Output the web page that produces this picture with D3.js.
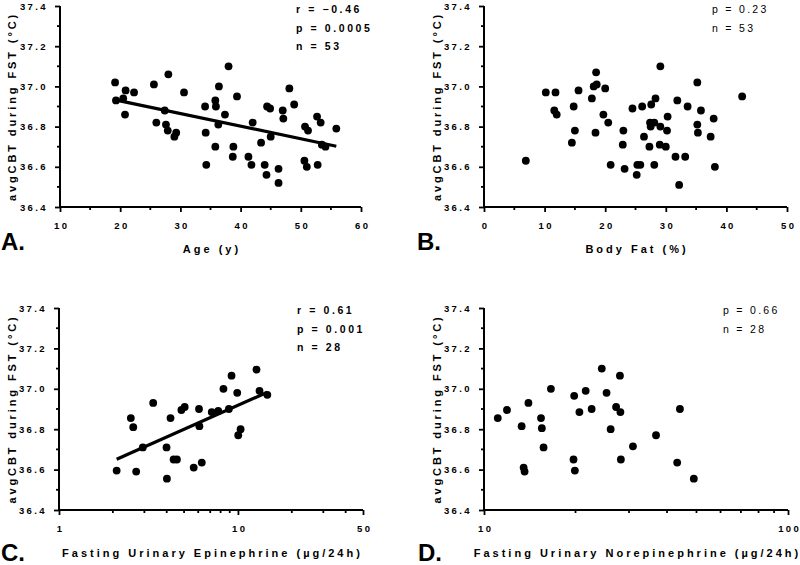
<!DOCTYPE html>
<html><head><meta charset="utf-8">
<script src="https://cdn.jsdelivr.net/npm/d3@7"></script>
<style>body{margin:0;background:#fff}svg{display:block}</style>
</head><body><svg id="c" width="800" height="565"></svg>
<script>
// ---- data ----
const yMajorTicks = [36.4, 36.6, 36.8, 37.0, 37.2, 37.4];
const yMinorTicks = [36.5, 36.7, 36.9, 37.1, 37.3];

const ageX = [19.15,19.3,20.5,20.9,20.8,22.3,25.6,26.0,27.4,27.6,27.9,28.0,29.3,29.0,30.6,34.1,34.2,34.3,35.8,35.9,35.8,36.4,36.3,37.4,38.0,38.8,38.7,39.4,41.3,41.8,42.0,43.4,44.0,44.3,44.4,44.9,45.0,46.3,46.3,47.0,47.1,48.1,48.9,50.6,50.7,51.2,51.0,52.7,52.8,53.3,53.5,54.1,55.9];
const ageY = [37.02,36.93,36.94,36.98,36.86,36.97,37.01,36.82,36.88,36.81,36.78,37.06,36.77,36.75,36.97,36.90,36.77,36.61,36.93,36.90,36.70,37.00,36.81,36.86,37.10,36.70,36.65,36.95,36.65,36.61,36.82,36.72,36.61,36.56,36.90,36.89,36.75,36.59,36.52,36.88,36.84,36.99,36.91,36.63,36.80,36.78,36.60,36.85,36.61,36.82,36.71,36.70,36.79];

const fatX = [6.9,10.2,11.8,11.6,12.0,14.5,14.8,15.0,15.6,17.8,18.1,18.5,18.6,18.4,19.7,20.0,20.5,20.9,22.9,23.0,23.2,24.5,25.2,25.3,25.8,26.1,26.4,27.3,27.4,27.5,27.6,28.1,28.1,28.3,29.1,29.1,29.0,30.0,30.2,30.3,31.6,31.9,32.2,33.2,33.6,35.2,35.2,35.3,35.8,37.4,37.9,38.1,42.6];
const fatY = [36.63,36.97,36.97,36.88,36.86,36.72,36.90,36.78,36.98,36.94,37.00,37.07,37.01,36.77,36.86,36.99,36.82,36.61,36.71,36.78,36.59,36.89,36.56,36.61,36.61,36.90,36.75,36.70,36.82,36.80,36.91,36.82,36.61,36.94,36.80,37.10,36.71,36.70,36.78,36.85,36.65,36.93,36.51,36.65,36.90,37.02,36.81,36.77,36.88,36.75,36.84,36.60,36.95];

const epiX = [2.10,2.52,2.60,2.70,2.94,3.36,3.99,4.01,4.20,4.37,4.56,4.83,5.04,5.66,6.06,6.09,6.28,7.14,7.76,8.30,8.90,9.21,9.91,10.04,10.35,12.7,13.2,14.6];
const epiY = [36.595,36.855,36.81,36.59,36.71,36.93,36.71,36.555,36.855,36.65,36.65,36.895,36.91,36.61,36.90,36.815,36.635,36.885,36.89,37.00,36.90,37.065,36.98,36.77,36.80,37.095,36.99,36.97];

const norX = [11.1,11.9,13.3,13.5,13.6,14.0,15.4,15.5,15.7,16.6,19.7,19.8,19.9,20.6,21.6,22.6,24.4,25.3,26.1,27.2,28.0,28.1,28.2,30.9,36.8,43.2,44.1,49.0];
const norY = [36.855,36.895,36.815,36.61,36.59,36.93,36.855,36.805,36.71,37.00,36.65,36.965,36.595,36.885,36.99,36.90,37.10,36.98,36.80,36.91,37.065,36.885,36.65,36.715,36.77,36.635,36.90,36.555];

const xTicksA = [10, 20, 30, 40, 50, 60], xMinorA = [15, 25, 35, 45, 55];
const xTicksB = [0, 10, 20, 30, 40, 50], xMinorB = [5, 15, 25, 35, 45];
const xTicksC = [1, 10, 50], xMinorC = [2, 3, 4, 5, 6, 7, 8, 9, 20, 30, 40];
const xTicksD = [10, 100], xMinorD = [20, 30, 40, 50, 60, 70, 80, 90];

const statsA = ["r = \u22120.46", "p = 0.0005", "n = 53"];
const statsB = ["p = 0.23", "n = 53"];
const statsC = ["r = 0.61", "p = 0.001", "n = 28"];
const statsD = ["p = 0.66", "n = 28"];

const yTitle = "avgCBT during FST (\u00B0C)";

// ---- drawing ----
const FONT = "'Liberation Sans', Arial, Helvetica, sans-serif";
const svg = d3.select("#c");

function panel(cfg) {
  const g = svg.append("g");
  const x = (cfg.log ? d3.scaleLog() : d3.scaleLinear()).domain(cfg.domain).range(cfg.xr);
  const y = d3.scaleLinear().domain([36.4, 37.4]).range(cfg.yr);
  const ax = cfg.xr[0], ay = cfg.yr[0];

  // y axis
  const yAxis = d3.axisLeft(y).tickValues(yMajorTicks).tickSize(5).tickPadding(7)
    .tickFormat(d3.format(".1f"));
  const gy = g.append("g").attr("transform", `translate(${ax},0)`).call(yAxis);
  gy.append("g").selectAll("line").data(yMinorTicks).join("line")
    .attr("x1", 0).attr("x2", -3).attr("y1", d => y(d)).attr("y2", d => y(d));

  // x axis
  const xAxis = d3.axisBottom(x).tickValues(cfg.xTicks).tickSize(5).tickPadding(10)
    .tickFormat(d => d);
  const gx = g.append("g").attr("transform", `translate(0,${ay})`).call(xAxis);
  gx.append("g").selectAll("line").data(cfg.xMinor).join("line")
    .attr("y1", 0).attr("y2", 3).attr("x1", d => x(d)).attr("x2", d => x(d));

  [gx, gy].forEach(a => {
    a.select(".domain").attr("stroke", "#000").attr("stroke-width", 2);
    a.selectAll("line").attr("stroke", "#000").attr("stroke-width", 1.8);
    a.selectAll("text").attr("font-family", FONT).attr("font-size", 9.5)
      .attr("font-weight", "bold").attr("fill", "#000").style("letter-spacing", "2.4px");
  });
  gx.select(".domain").attr("d", `M${cfg.xr[0]},0H${cfg.xr[1]}`);
  gy.select(".domain").attr("d", `M0,${cfg.yr[0]}V${cfg.yr[1]}`);
  gx.selectAll(".tick text").attr("dx", "1.2px");

  // regression
  if (cfg.fit) {
    const tx = cfg.log ? (v => Math.log10(v)) : (v => v);
    const xs = cfg.xs.map(tx), ys = cfg.ys;
    const mx = d3.mean(xs), my = d3.mean(ys);
    const b = d3.sum(xs, (v, i) => (v - mx) * (ys[i] - my)) / d3.sum(xs, v => (v - mx) * (v - mx));
    const a0 = my - b * mx;
    const ext = d3.extent(cfg.xs);
    const pts = ext.map(v => [v, a0 + b * tx(v)]);
    g.append("line")
      .attr("x1", x(pts[0][0])).attr("y1", y(pts[0][1]))
      .attr("x2", x(pts[1][0])).attr("y2", y(pts[1][1]))
      .attr("stroke", "#000").attr("stroke-width", 3.2);
  }

  // points
  g.append("g").selectAll("circle").data(cfg.xs).join("circle")
    .attr("cx", d => x(d)).attr("cy", (d, i) => y(cfg.ys[i])).attr("r", 3.9).attr("fill", "#000");

  // stats
  g.append("g").selectAll("text").data(cfg.stats).join("text")
    .attr("x", cfg.statsX).attr("y", (d, i) => cfg.statsY + i * 18.7)
    .attr("font-family", FONT).attr("font-size", 10.5)
    .attr("font-weight", cfg.bold ? "bold" : "normal")
    .style("letter-spacing", cfg.bold ? "2.6px" : "2.3px")
    .text(d => d);

  // titles
  g.append("text").attr("x", (cfg.xr[0] + cfg.xr[1]) / 2 + 1.5).attr("y", cfg.titleY)
    .attr("text-anchor", "middle").attr("font-family", FONT).attr("font-size", 11)
    .attr("font-weight", "bold").style("letter-spacing", "3px").text(cfg.title);
  const ym = (cfg.yr[0] + cfg.yr[1]) / 2;
  g.append("text").attr("transform", `translate(${cfg.yTitleX},${ym}) rotate(-90)`)
    .attr("text-anchor", "middle").attr("font-family", FONT).attr("font-size", 11)
    .attr("font-weight", "bold").style("letter-spacing", "2.9px").text(yTitle);

  g.append("text").attr("x", cfg.letterPos[0]).attr("y", cfg.letterPos[1])
    .attr("font-family", FONT).attr("font-size", 24).attr("font-weight", "bold").text(cfg.letter);
}

panel({log: false, domain: [10, 60], xr: [60, 361], yr: [207, 6], xTicks: xTicksA, xMinor: xMinorA,
  xs: ageX, ys: ageY, fit: true, stats: statsA, bold: true, statsX: 296, statsY: 13,
  title: "Age (y)", titleY: 253, yTitleX: 16, letter: "A.", letterPos: [1, 250]});
panel({log: false, domain: [0, 50], xr: [484, 787], yr: [207, 6], xTicks: xTicksB, xMinor: xMinorB,
  xs: fatX, ys: fatY, fit: false, stats: statsB, bold: false, statsX: 712, statsY: 13,
  title: "Body Fat (%)", titleY: 253, yTitleX: 441, letter: "B.", letterPos: [417, 250]});
panel({log: true, domain: [1, 50], xr: [59, 363], yr: [510, 308], xTicks: xTicksC, xMinor: xMinorC,
  xs: epiX, ys: epiY, fit: true, stats: statsC, bold: true, statsX: 297, statsY: 314,
  title: "Fasting Urinary Epinephrine (\u00B5g/24h)", titleY: 557, yTitleX: 16, letter: "C.", letterPos: [1, 561]});
panel({log: true, domain: [10, 100], xr: [484, 788], yr: [510, 308], xTicks: xTicksD, xMinor: xMinorD,
  xs: norX, ys: norY, fit: false, stats: statsD, bold: false, statsX: 723, statsY: 314,
  title: "Fasting Urinary Norepinephrine (\u00B5g/24h)", titleY: 557, yTitleX: 441, letter: "D.", letterPos: [418, 561]});
</script>
</body></html>
